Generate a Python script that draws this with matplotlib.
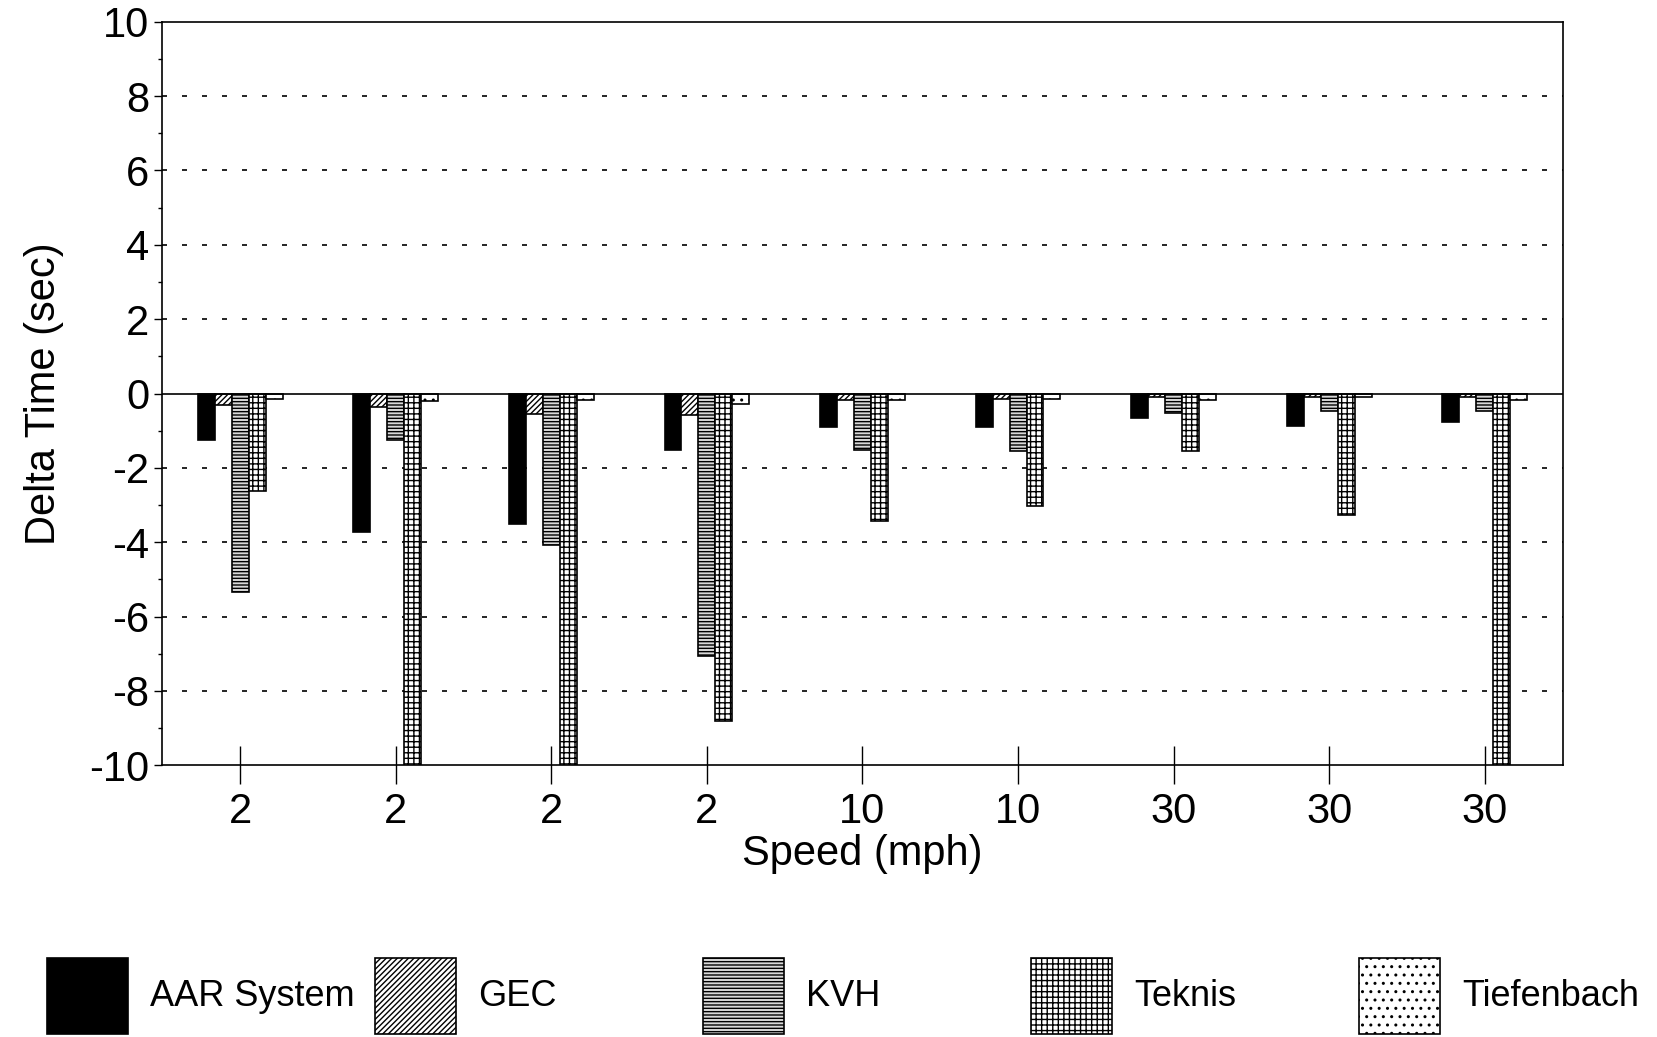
import numpy as np
import matplotlib
matplotlib.use('Agg')
import matplotlib.pyplot as plt
from matplotlib.ticker import MultipleLocator

plt.rcParams['font.family'] = ['Liberation Sans', 'DejaVu Sans']
plt.rcParams['hatch.linewidth'] = 1.0
plt.rcParams['axes.unicode_minus'] = False

speeds = ['2', '2', '2', '2', '10', '10', '30', '30', '30']
systems = ['AAR System', 'GEC', 'KVH', 'Teknis', 'Tiefenbach']

aar = [-1.26, -3.72, -3.50, -1.53, -0.90, -0.90, -0.65, -0.86, -0.77]
gec = [-0.30, -0.35, -0.54, -0.59, -0.18, -0.15, -0.09, -0.08, -0.09]
kvh = [-5.35, -1.26, -4.08, -7.05, -1.51, -1.55, -0.51, -0.47, -0.47]
teknis = [-2.62, -10.0, -10.0, -8.82, -3.44, -3.02, -1.55, -3.26, -10.0]
tiefenbach = [-0.16, -0.20, -0.17, -0.27, -0.18, -0.15, -0.17, -0.10, -0.18]

series = [aar, gec, kvh, teknis, tiefenbach]
faces = ['black', 'white', '#d8d8d8', 'white', 'white']
hatches = [None, '//////', '-----', '+++', '..']

fig = plt.figure(figsize=(16.57, 10.37), dpi=100)
ax = fig.add_axes([0.098, 0.262, 0.845, 0.717])

x = np.arange(len(speeds))
w = 0.109
bars = []
for i, (vals, fc, h) in enumerate(zip(series, faces, hatches)):
    b = ax.bar(x + (i - 2) * w, vals, w, color=fc, hatch=h,
               edgecolor='black', linewidth=1.2, label=systems[i], zorder=3)
    bars.append(b)

ax.set_xlim(-0.5, 8.5)
ax.set_ylim(-10, 10)
ax.set_xticks(x)
ax.set_xticklabels(speeds, fontsize=30)
ax.yaxis.set_major_locator(MultipleLocator(2))
ax.yaxis.set_minor_locator(MultipleLocator(1))
ax.tick_params(axis='y', labelsize=30, direction='out', length=6, width=1)
ax.tick_params(axis='y', which='minor', direction='out', length=3, width=1)
ax.tick_params(axis='x', direction='inout', length=28, width=1, pad=5)
for yv in range(-8, 10, 2):
    if yv != 0:
        ax.axhline(yv, color='black', linestyle=(0, (3, 9)), linewidth=1.2, zorder=1)
ax.axhline(0, color='black', linewidth=1.2, zorder=4)

ax.set_xlabel('Speed (mph)', fontsize=30, labelpad=2)
ax.set_ylabel('Delta Time (sec)', fontsize=30, labelpad=18)

for s in ax.spines.values():
    s.set_linewidth(1.2)

# legend spread evenly along the bottom
for i, b in enumerate(bars):
    fig.legend(handles=[b], labels=[systems[i]], loc='center left',
               bbox_to_anchor=(0.013 + i * 0.198, 0.04), frameon=False,
               fontsize=26, handlelength=2.25, handleheight=2.86,
               handletextpad=0.6, borderpad=0.2)

fig.savefig('out.png', dpi=100)
